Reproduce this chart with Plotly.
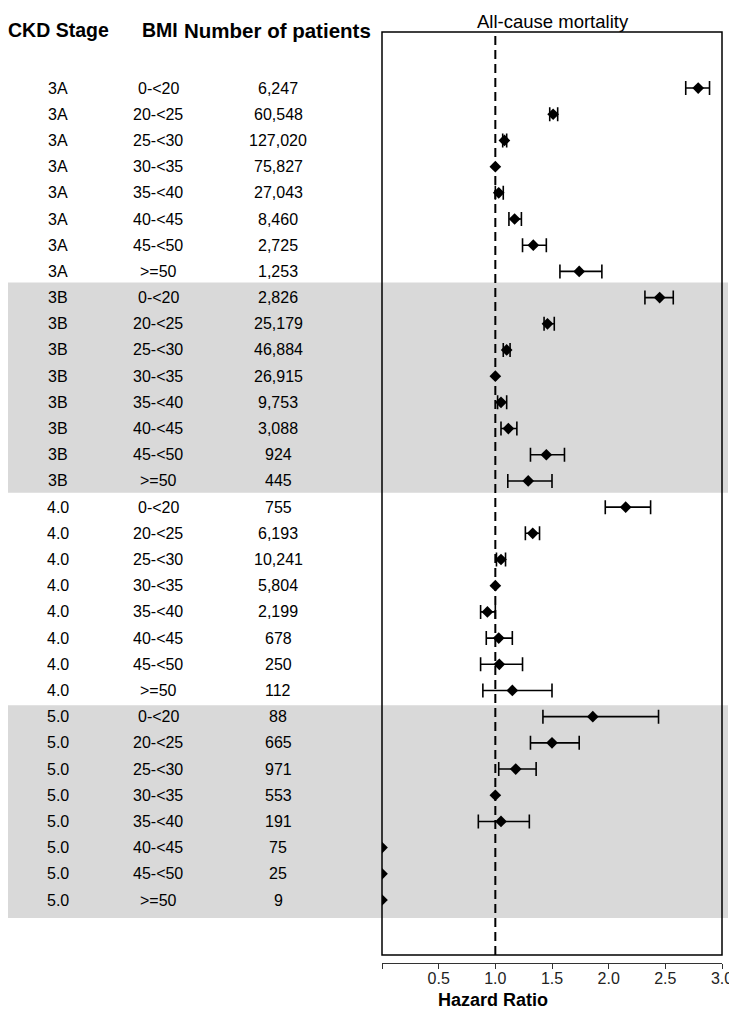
import plotly.graph_objects as go

# ---------------- data ----------------
stages = ["3A", "3A", "3A", "3A", "3A", "3A", "3A", "3A",
          "3B", "3B", "3B", "3B", "3B", "3B", "3B", "3B",
          "4.0", "4.0", "4.0", "4.0", "4.0", "4.0", "4.0", "4.0",
          "5.0", "5.0", "5.0", "5.0", "5.0", "5.0", "5.0", "5.0"]
bmi_groups = ["0-<20", "20-<25", "25-<30", "30-<35", "35-<40", "40-<45", "45-<50", ">=50"]
bmi = bmi_groups * 4
patients = ["6,247", "60,548", "127,020", "75,827", "27,043", "8,460", "2,725", "1,253",
            "2,826", "25,179", "46,884", "26,915", "9,753", "3,088", "924", "445",
            "755", "6,193", "10,241", "5,804", "2,199", "678", "250", "112",
            "88", "665", "971", "553", "191", "75", "25", "9"]
hazard_ratio = [2.79, 1.51, 1.08, 1.00, 1.03, 1.17, 1.335, 1.74,
                2.45, 1.46, 1.10, 1.00, 1.05, 1.115, 1.45, 1.29,
                2.15, 1.33, 1.05, 1.00, 0.93, 1.03, 1.035, 1.15,
                1.86, 1.50, 1.18, 1.00, 1.05, 0.0, 0.0, 0.0]
ci_lower = [2.68, 1.48, 1.065, None, 1.00, 1.12, 1.24, 1.57,
            2.32, 1.43, 1.07, None, 1.02, 1.05, 1.31, 1.11,
            1.97, 1.265, 1.01, None, 0.87, 0.92, 0.87, 0.89,
            1.42, 1.31, 1.03, None, 0.85, None, None, None]
ci_upper = [2.89, 1.55, 1.10, None, 1.07, 1.23, 1.45, 1.94,
            2.57, 1.52, 1.13, None, 1.10, 1.19, 1.61, 1.50,
            2.37, 1.39, 1.09, None, 1.00, 1.15, 1.24, 1.50,
            2.44, 1.74, 1.36, None, 1.30, None, None, None]
x_ticks = [0, 0.5, 1.0, 1.5, 2.0, 2.5, 3.0]
x_tick_labels = ["", "0.5", "1.0", "1.5", "2.0", "2.5", "3.0"]
shaded_stages = ["3B", "5.0"]

# ---------------- layout geometry (page pixels; the page body has an 8px margin) ----------------
OFF = 8
PAGE_W, PAGE_H = 737, 1017
W, H = PAGE_W - OFF, PAGE_H - OFF
PLOT_LEFT, PLOT_RIGHT, PLOT_TOP, PLOT_BOTTOM = 382, 722, 32, 963
L, T = PLOT_LEFT - OFF, PLOT_TOP - OFF
R, B = PAGE_W - PLOT_RIGHT, PAGE_H - PLOT_BOTTOM
PW = PLOT_RIGHT - PLOT_LEFT
PH = PLOT_BOTTOM - PLOT_TOP
rows = list(range(len(stages)))
Y_RANGE = [33.405, -2.14]
BAND_PAD = {"3B": (0.58, 0.45), "5.0": (0.44, 0.69)}


def px_to_paper_x(px):
    return (px - PLOT_LEFT) / PW


def py_to_paper_y(py):
    return (PLOT_BOTTOM - py) / PH


FONT = "Liberation Sans, Arial, sans-serif"

fig = go.Figure()

ci_idx = [i for i in rows if ci_lower[i] is not None]
fig.add_trace(go.Scatter(
    x=[hazard_ratio[i] for i in ci_idx],
    y=ci_idx,
    mode="markers",
    marker=dict(symbol="diamond", size=9, color="black"),
    error_x=dict(
        type="data", symmetric=False,
        array=[ci_upper[i] - hazard_ratio[i] for i in ci_idx],
        arrayminus=[hazard_ratio[i] - ci_lower[i] for i in ci_idx],
        color="black", thickness=1.6, width=7,
    ),
    showlegend=False,
))
no_ci_idx = [i for i in rows if ci_lower[i] is None]
fig.add_trace(go.Scatter(
    x=[hazard_ratio[i] for i in no_ci_idx],
    y=no_ci_idx,
    mode="markers",
    marker=dict(symbol="diamond", size=9, color="black"),
    showlegend=False,
))

shapes = []
for st in shaded_stages:
    idx = [i for i in rows if stages[i] == st]
    pad_top, pad_bot = BAND_PAD[st]
    shapes.append(dict(type="rect", xref="paper", yref="y",
                       x0=px_to_paper_x(0), x1=px_to_paper_x(728),
                       y0=min(idx) - pad_top, y1=max(idx) + pad_bot,
                       fillcolor="#d9d9d9", line=dict(width=0), layer="below"))
shapes.append(dict(type="rect", xref="paper", yref="paper",
                   x0=0, x1=1, y0=py_to_paper_y(955), y1=1,
                   line=dict(color="black", width=1.5), fillcolor="rgba(0,0,0,0)",
                   layer="above"))
shapes.append(dict(type="line", xref="x", yref="paper",
                   x0=1, x1=1, y0=py_to_paper_y(955), y1=1,
                   line=dict(color="black", width=2, dash="9px,5px"), layer="below"))

annotations = []
col_x = {"stage": 58, "bmi": 158, "n": 278}
for i in rows:
    for key, txt in (("stage", stages[i]), ("bmi", bmi[i]), ("n", patients[i])):
        annotations.append(dict(x=px_to_paper_x(col_x[key]), xref="paper", y=i, yref="y",
                                text=txt, showarrow=False, xanchor="center", yanchor="middle",
                                font=dict(family=FONT, size=16, color="black")))
headers = [("CKD Stage", 58, 19.5), ("BMI", 160, 19.5), ("Number of patients", 277, 20.5)]
for txt, px, fs in headers:
    annotations.append(dict(x=px_to_paper_x(px), xref="paper", y=py_to_paper_y(30), yref="paper",
                            text="<b>%s</b>" % txt, showarrow=False, xanchor="center",
                            yanchor="middle", font=dict(family=FONT, size=fs, color="black")))
annotations.append(dict(x=px_to_paper_x(553), xref="paper", y=py_to_paper_y(21), yref="paper",
                        text="All-cause mortality", showarrow=False, xanchor="center",
                        yanchor="middle", borderpad=0,
                        font=dict(family=FONT, size=18.5, color="black")))
annotations.append(dict(x=px_to_paper_x(493), xref="paper", y=py_to_paper_y(1000), yref="paper",
                        text="<b>Hazard Ratio</b>", showarrow=False, xanchor="center",
                        yanchor="middle", font=dict(family=FONT, size=18, color="black")))

fig.update_layout(
    width=W, height=H,
    margin=dict(l=L, r=R, t=T, b=B, autoexpand=False),
    paper_bgcolor="white", plot_bgcolor="rgba(0,0,0,0)",
    shapes=shapes, annotations=annotations,
    xaxis=dict(range=[0, 3], tickvals=x_ticks, ticktext=x_tick_labels, automargin=False,
               showgrid=False, zeroline=False, showline=True, linecolor="#333",
               linewidth=1.2, ticks="outside", ticklen=5, tickcolor="#333",
               ticklabelstandoff=-4,
               tickfont=dict(family=FONT, size=16, color="#222")),
    yaxis=dict(range=Y_RANGE, showgrid=False, zeroline=False, showticklabels=False,
               automargin=False, showline=False, ticks=""),
)

fig.write_html("out.html")
